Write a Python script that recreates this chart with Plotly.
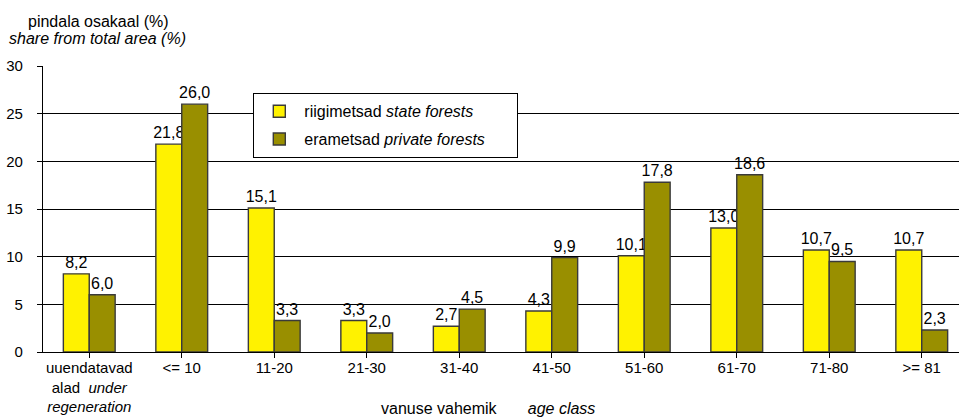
import plotly.graph_objects as go

categories = [
    "uuendatavad<br>alad  <i>under</i><br><i>regeneration</i>",
    "<= 10", "11-20", "21-30", "31-40", "41-50", "51-60", "61-70", "71-80", ">= 81",
]
state_forests = [8.2, 21.8, 15.1, 3.3, 2.7, 4.3, 10.1, 13.0, 10.7, 10.7]
private_forests = [6.0, 26.0, 3.3, 2.0, 4.5, 9.9, 17.8, 18.6, 9.5, 2.3]
y_ticks = [0, 5, 10, 15, 20, 25, 30]

W, H = 959, 418
L, R, T, B = 43, 0, 66, 66
FONT = "Liberation Sans, Arial, sans-serif"
PAD = "&nbsp;" * 6


def fmt(v):
    return f"{v:.1f}".replace(".", ",")


def px_x(p):
    return (p - L) / (W - L - R)


def px_y(p):
    return (H - B - p) / (H - T - B)


fig = go.Figure()
fig.add_trace(go.Bar(
    x=list(range(len(categories))), y=state_forests,
    name="riigimetsad <i>state forests</i>" + PAD, legendgroup="a",
    marker=dict(color="#FFF200", line=dict(color="#3a3a3a", width=1.4)),
    text=[fmt(v) for v in state_forests], textposition="outside",
    constraintext="none",
    textfont=dict(size=16, color="black", family=FONT), cliponaxis=False,
))
fig.add_trace(go.Bar(
    x=list(range(len(categories))), y=private_forests,
    name="erametsad <i>private forests</i>" + PAD, legendgroup="b",
    marker=dict(color="#998F00", line=dict(color="#3a3a3a", width=1.4)),
    text=[fmt(v) for v in private_forests], textposition="outside",
    constraintext="none",
    textfont=dict(size=16, color="black", family=FONT), cliponaxis=False,
))

n = len(categories)
span = (W - L - R) / 92.5
fig.update_layout(
    width=W, height=H,
    margin=dict(l=L, r=R, t=T, b=B, pad=0),
    paper_bgcolor="white", plot_bgcolor="white",
    font=dict(family=FONT, size=16, color="black"),
    barmode="group", bargap=0.44, bargroupgap=0.0,
    showlegend=True,
    legend=dict(
        x=px_x(253), y=px_y(93), xanchor="left", yanchor="top",
        bgcolor="white", bordercolor="black", borderwidth=1.3,
        font=dict(size=16, family=FONT), tracegroupgap=4,
        itemwidth=40,
    ),
    xaxis=dict(
        range=[-0.5, -0.5 + span], tickmode="array",
        tickvals=list(range(n)), ticktext=categories,
        showline=True, linecolor="black", linewidth=1.3,
        ticks="outside", ticklen=5, tickcolor="black", tickson="boundaries",
        showgrid=False, zeroline=False, tickangle=0,
        ticklabelstandoff=-3,
        tickfont=dict(size=15, family=FONT),
    ),
    yaxis=dict(
        range=[0, 30], tickmode="array", tickvals=y_ticks,
        ticktext=[str(v) for v in y_ticks],
        showline=True, linecolor="black", linewidth=1.3,
        ticks="outside", ticklen=5, tickcolor="black",
        showgrid=True, gridcolor="black", gridwidth=1,
        zeroline=False, ticklabelstandoff=11,
        tickfont=dict(size=15, family=FONT),
    ),
    annotations=[
        dict(text="pindala osakaal (%)",
             xref="paper", yref="paper", x=px_x(98), y=px_y(21),
             xanchor="center", yanchor="middle", showarrow=False,
             font=dict(size=16, family=FONT)),
        dict(text="<i>share from total area (%)</i>",
             xref="paper", yref="paper", x=px_x(97), y=px_y(38),
             xanchor="center", yanchor="middle", showarrow=False,
             font=dict(size=16, family=FONT)),
        dict(text="vanuse vahemik&nbsp;&nbsp;&nbsp;&nbsp;&nbsp;&nbsp;&nbsp;<i>age class</i>",
             xref="paper", yref="paper", x=px_x(379), y=px_y(408),
             xanchor="left", yanchor="middle", showarrow=False,
             font=dict(size=16, family=FONT)),
    ],
)

fig.write_html(
    "out.html",
    config={"displayModeBar": False},
    post_script="document.body.style.margin='0';document.body.style.padding='0';",
)
